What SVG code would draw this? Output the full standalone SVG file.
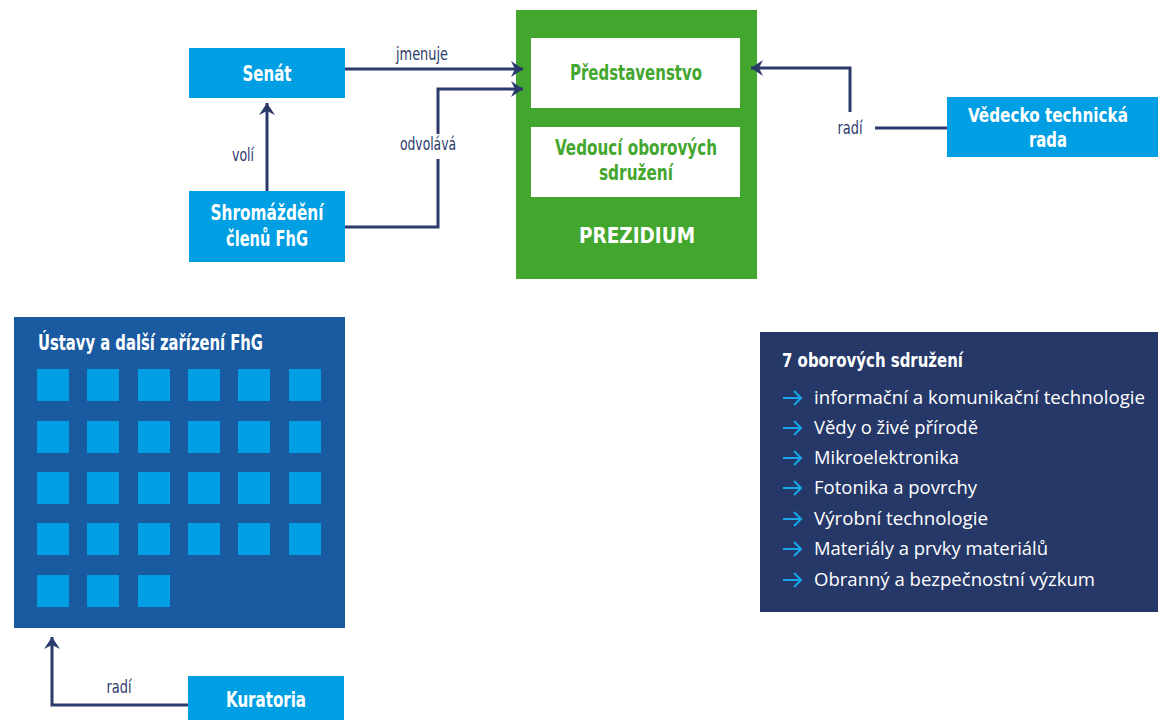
<svg xmlns="http://www.w3.org/2000/svg" width="1158" height="720" viewBox="0 0 1158 720">
<style>
.cyan{fill:#009FE3}
.nb{font-family:"DejaVu Sans Condensed","Liberation Sans",sans-serif;font-weight:bold;font-size:22px;text-anchor:middle}
.w{fill:#ffffff}
.g{fill:#43A62E}
.lbl{font-family:"DejaVu Sans Condensed","Liberation Sans",sans-serif;font-size:17px;fill:#2B3A6B;text-anchor:middle}
.conn{fill:none;stroke:#2B3A6B;stroke-width:3}
.item{font-family:"Open Sans","Noto Sans",sans-serif;font-size:18px;fill:#ffffff}
.la{fill:none;stroke:#16A8E8;stroke-width:2}
.sq{fill:#009FE3}
</style>
<defs>
<marker id="ah" markerUnits="userSpaceOnUse" markerWidth="16" markerHeight="20" viewBox="0 0 16 20" refX="14" refY="10" orient="auto">
<path d="M2,2 L14,10 L2,18 L6,10 Z" fill="#2B3A6B"/>
</marker>
</defs>

<g id="prezidium">
<rect x="516" y="10" width="241" height="269" fill="#43A62E"/>
<text class="nb w" x="637" y="243" textLength="116" lengthAdjust="spacingAndGlyphs">PREZIDIUM</text>
</g>
<g id="predstavenstvo">
<rect x="531" y="38" width="209" height="70" fill="#ffffff"/>
<text class="nb g" x="636" y="80" textLength="132" lengthAdjust="spacingAndGlyphs">Představenstvo</text>
</g>
<g id="vedouci">
<rect x="531" y="127" width="209" height="70" fill="#ffffff"/>
<text class="nb g" x="636" y="155" textLength="162" lengthAdjust="spacingAndGlyphs">Vedoucí oborových</text>
<text class="nb g" x="636" y="180" textLength="74" lengthAdjust="spacingAndGlyphs">sdružení</text>
</g>

<g id="senat">
<rect class="cyan" x="189" y="48" width="156" height="50"/>
<text class="nb w" x="267" y="81" textLength="49" lengthAdjust="spacingAndGlyphs">Senát</text>
</g>
<g id="shromazdeni">
<rect class="cyan" x="189" y="191" width="156" height="71"/>
<text class="nb w" x="267" y="220" textLength="113" lengthAdjust="spacingAndGlyphs">Shromáždění</text>
<text class="nb w" x="267" y="246" textLength="82" lengthAdjust="spacingAndGlyphs">členů FhG</text>
</g>
<g id="vtr">
<rect class="cyan" x="947" y="97" width="211" height="60"/>
<text class="nb w" x="1048" y="122" style="font-size:20px" textLength="160" lengthAdjust="spacingAndGlyphs">Vědecko technická</text>
<text class="nb w" x="1048" y="147" style="font-size:21px" textLength="38" lengthAdjust="spacingAndGlyphs">rada</text>
</g>
<g id="kuratoria">
<rect class="cyan" x="188" y="676" width="156" height="44"/>
<text class="nb w" x="266" y="707" textLength="80" lengthAdjust="spacingAndGlyphs">Kuratoria</text>
</g>

<g id="ustavy">
<rect x="14" y="317" width="331" height="311" fill="#1A5AA0"/>
<text class="nb w" x="38" y="350" style="text-anchor:start" textLength="225" lengthAdjust="spacingAndGlyphs">Ústavy a další zařízení FhG</text>
<g>
<rect class="sq" x="37" y="369" width="32" height="32"/><rect class="sq" x="87" y="369" width="32" height="32"/><rect class="sq" x="138" y="369" width="32" height="32"/><rect class="sq" x="188" y="369" width="32" height="32"/><rect class="sq" x="238" y="369" width="32" height="32"/><rect class="sq" x="289" y="369" width="32" height="32"/>
<rect class="sq" x="37" y="421" width="32" height="32"/><rect class="sq" x="87" y="421" width="32" height="32"/><rect class="sq" x="138" y="421" width="32" height="32"/><rect class="sq" x="188" y="421" width="32" height="32"/><rect class="sq" x="238" y="421" width="32" height="32"/><rect class="sq" x="289" y="421" width="32" height="32"/>
<rect class="sq" x="37" y="472" width="32" height="32"/><rect class="sq" x="87" y="472" width="32" height="32"/><rect class="sq" x="138" y="472" width="32" height="32"/><rect class="sq" x="188" y="472" width="32" height="32"/><rect class="sq" x="238" y="472" width="32" height="32"/><rect class="sq" x="289" y="472" width="32" height="32"/>
<rect class="sq" x="37" y="523" width="32" height="32"/><rect class="sq" x="87" y="523" width="32" height="32"/><rect class="sq" x="138" y="523" width="32" height="32"/><rect class="sq" x="188" y="523" width="32" height="32"/><rect class="sq" x="238" y="523" width="32" height="32"/><rect class="sq" x="289" y="523" width="32" height="32"/>
<rect class="sq" x="37" y="575" width="32" height="32"/><rect class="sq" x="87" y="575" width="32" height="32"/><rect class="sq" x="138" y="575" width="32" height="32"/>
</g>
</g>

<g id="sdruzeni">
<rect x="760" y="332" width="398" height="280" fill="#263868"/>
<text class="nb w" x="782" y="367" style="text-anchor:start;font-size:19px" textLength="181" lengthAdjust="spacingAndGlyphs">7 oborových sdružení</text>
<g class="la">
<path d="M783,398 H801 M794,391 L801,398 L794,405"/>
<path d="M783,428 H801 M794,421 L801,428 L794,435"/>
<path d="M783,458 H801 M794,451 L801,458 L794,465"/>
<path d="M783,488 H801 M794,481 L801,488 L794,495"/>
<path d="M783,519 H801 M794,512 L801,519 L794,526"/>
<path d="M783,549 H801 M794,542 L801,549 L794,556"/>
<path d="M783,580 H801 M794,573 L801,580 L794,587"/>
</g>
<text class="item" x="814" y="404" textLength="331" lengthAdjust="spacingAndGlyphs">informační a komunikační technologie</text>
<text class="item" x="814" y="434" textLength="164" lengthAdjust="spacingAndGlyphs">Vědy o živé přírodě</text>
<text class="item" x="814" y="464" textLength="145" lengthAdjust="spacingAndGlyphs">Mikroelektronika</text>
<text class="item" x="814" y="494" textLength="163" lengthAdjust="spacingAndGlyphs">Fotonika a povrchy</text>
<text class="item" x="814" y="525" textLength="174" lengthAdjust="spacingAndGlyphs">Výrobní technologie</text>
<text class="item" x="814" y="555" textLength="234" lengthAdjust="spacingAndGlyphs">Materiály a prvky materiálů</text>
<text class="item" x="814" y="586" textLength="281" lengthAdjust="spacingAndGlyphs">Obranný a bezpečnostní výzkum</text>
</g>

<g id="connectors">
<path class="conn" d="M345,69 H523" marker-end="url(#ah)"/>
<text class="lbl" x="422" y="60" textLength="52" lengthAdjust="spacingAndGlyphs">jmenuje</text>
<path class="conn" d="M267,191 V103" marker-end="url(#ah)"/>
<text class="lbl" x="243" y="161" textLength="22" lengthAdjust="spacingAndGlyphs">volí</text>
<path class="conn" d="M345,227 H438 V159"/>
<path class="conn" d="M438,134 V89 H523" marker-end="url(#ah)"/>
<text class="lbl" x="428" y="150" textLength="56" lengthAdjust="spacingAndGlyphs">odvolává</text>
<path class="conn" d="M947,128 H875"/>
<path class="conn" d="M850,112 V68 H751" marker-end="url(#ah)"/>
<text class="lbl" x="850" y="134" textLength="25" lengthAdjust="spacingAndGlyphs">radí</text>
<path class="conn" d="M188,705 H52 V637" marker-end="url(#ah)"/>
<text class="lbl" x="119" y="693" textLength="25" lengthAdjust="spacingAndGlyphs">radí</text>
</g>
</svg>
